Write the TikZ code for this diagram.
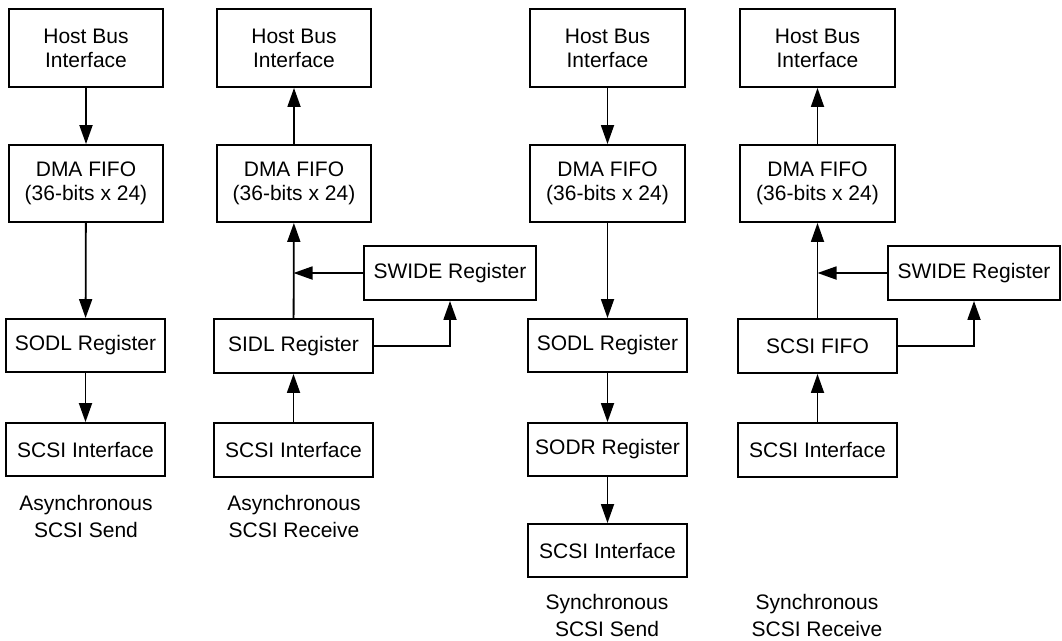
\documentclass[tikz,border=0pt]{standalone}
\usepackage{fontspec}
\setmainfont{Liberation Sans}
\usetikzlibrary{arrows.meta}
\tikzset{
  box/.style={draw, line width=1.9pt, inner sep=0pt, align=center,
    font=\fontsize{21}{24}\selectfont},
  captext/.style={inner sep=0pt, align=center, font=\fontsize{21}{27}\selectfont},
  conn/.style={line width=1.8pt, -{Triangle[length=19pt,width=13pt]}}
}
\newcommand{\bx}[6]{\node[box, minimum width=#4pt, minimum height=#5pt] (#1) at (#2,#3) {#6};}
\begin{document}
\begin{tikzpicture}[x=1pt,y=-1pt]
\useasboundingbox (0,0) rectangle (1062,640);
\fill[white] (0,0) rectangle (1062,640);
% Column 1
\bx{H1}{86}{48}{154}{78}{Host Bus\\Interface}
\bx{D1}{86}{183.5}{154}{77}{DMA FIFO\\(36-bits x 24)}
\bx{O1}{85.5}{345.5}{159}{53}{SODL Register}
\bx{S1}{85.5}{449.5}{159}{53}{SCSI Interface}
\node[captext, anchor=base] (C1) at (86,537) {Asynchronous\\SCSI Send};
\draw[conn] (H1) -- (D1);
\draw[conn] (D1) -- (O1);
\draw[conn] (O1) -- (S1);
% Column 2
\bx{H2}{294}{48}{154}{78}{Host Bus\\Interface}
\bx{D2}{294}{183.5}{154}{77}{DMA FIFO\\(36-bits x 24)}
\bx{I2}{293.5}{346}{159}{54}{SIDL Register}
\bx{S2}{293.5}{450}{159}{54}{SCSI Interface}
\bx{W2}{450}{273}{172}{54}{SWIDE Register}
\node[captext, anchor=base] (C2) at (294,537) {Asynchronous\\SCSI Receive};
\draw[conn] (S2) -- (I2);
\draw[conn] (I2) -- (D2);
\draw[conn] (D2) -- (H2);
\draw[conn] (W2.west) -- (W2.west -| I2.north);
\draw[conn] (I2.east) -| (W2.south);
% Column 3
\bx{H3}{607.5}{48}{155}{78}{Host Bus\\Interface}
\bx{D3}{607.5}{183.5}{155}{77}{DMA FIFO\\(36-bits x 24)}
\bx{O3}{607.5}{345.5}{159}{53}{SODL Register}
\bx{R3}{607.5}{449.5}{159}{53}{SODR Register}
\bx{S3}{607.5}{550.5}{159}{53}{SCSI Interface}
\node[captext, anchor=base] (C3) at (607,636) {Synchronous\\SCSI Send};
\draw[conn] (H3) -- (D3);
\draw[conn] (D3) -- (O3);
\draw[conn] (O3) -- (R3);
\draw[conn] (R3) -- (S3);
% Column 4
\bx{H4}{817.5}{48}{155}{78}{Host Bus\\Interface}
\bx{D4}{817.5}{183.5}{155}{77}{DMA FIFO\\(36-bits x 24)}
\bx{F4}{817.5}{346}{159}{54}{SCSI FIFO}
\bx{S4}{817.5}{450}{159}{54}{SCSI Interface}
\bx{W4}{974}{273}{172}{54}{SWIDE Register}
\node[captext, anchor=base] (C4) at (817,636) {Synchronous\\SCSI Receive};
\draw[conn] (S4) -- (F4);
\draw[conn] (F4) -- (D4);
\draw[conn] (D4) -- (H4);
\draw[conn] (W4.west) -- (W4.west -| F4.north);
\draw[conn] (F4.east) -| (W4.south);
\end{tikzpicture}
\end{document}
